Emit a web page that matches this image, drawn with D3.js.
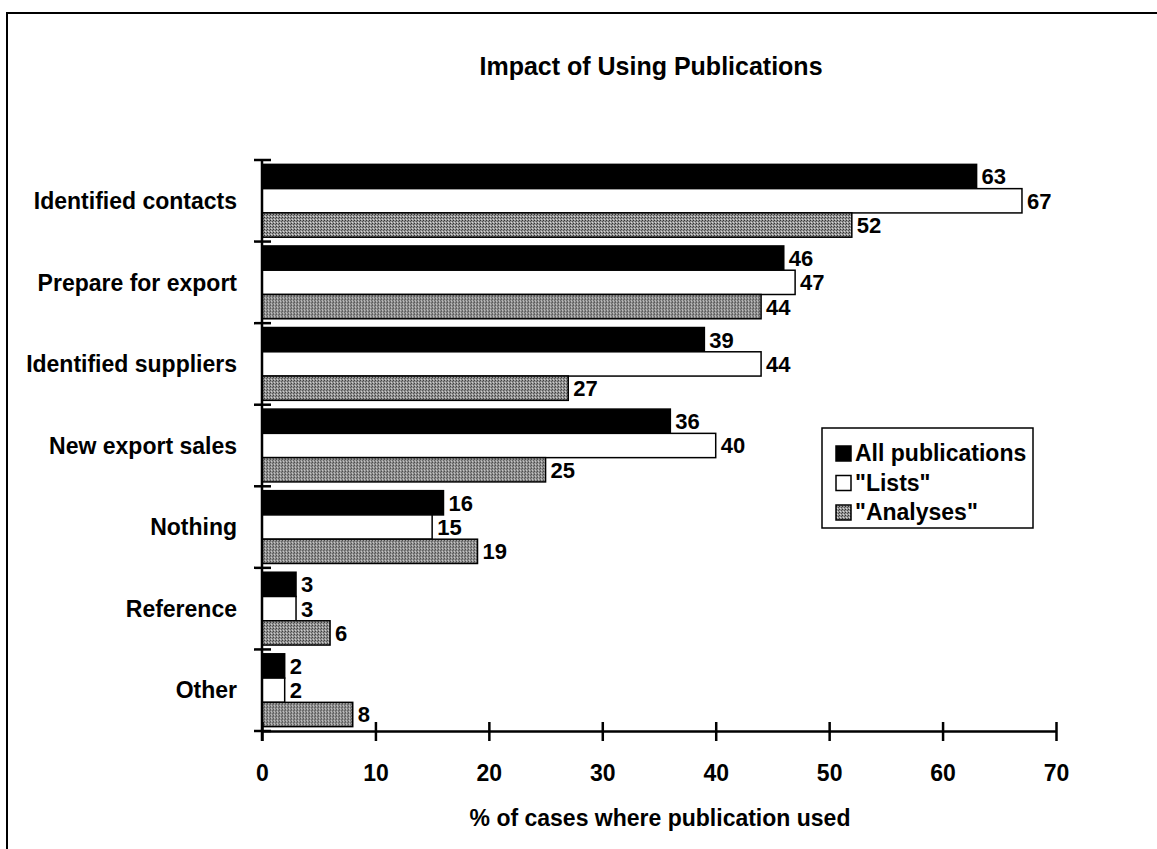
<!DOCTYPE html>
<html>
<head>
<meta charset="utf-8">
<script src="https://cdn.jsdelivr.net/npm/d3@7"></script>
<style>
  body { margin: 0; background: #fff; }
  text { font-family: "Liberation Sans", Arial, sans-serif; fill: #000; font-weight: bold; }
</style>
</head>
<body>
<svg></svg>
<script>
const categories = ["Identified contacts", "Prepare for export", "Identified suppliers",
                    "New export sales", "Nothing", "Reference", "Other"];
const seriesNames = ["All publications", "\"Lists\"", "\"Analyses\""];
const allPubs = [63, 46, 39, 36, 16, 3, 2];
const lists = [67, 47, 44, 40, 15, 3, 2];
const analyses = [52, 44, 27, 25, 19, 6, 8];
const xTicks = [0, 10, 20, 30, 40, 50, 60, 70];

const W = 1157, H = 849;
const svg = d3.select("svg").attr("width", W).attr("height", H);

// gray dotted fill like the scanned original
const defs = svg.append("defs");
const pat = defs.append("pattern")
  .attr("id", "grain").attr("width", 3).attr("height", 3)
  .attr("patternUnits", "userSpaceOnUse");
pat.append("rect").attr("width", 3).attr("height", 3).attr("fill", "#959595");
pat.append("rect").attr("x", 0).attr("y", 0).attr("width", 1).attr("height", 1).attr("fill", "#333");
pat.append("rect").attr("x", 2).attr("y", 1).attr("width", 1).attr("height", 1).attr("fill", "#505050");
pat.append("rect").attr("x", 1).attr("y", 2).attr("width", 1).attr("height", 1).attr("fill", "#d8d8d8");

const fills = ["#000", "#fff", "url(#grain)"];

// outer frame (top and left edges visible)
svg.append("path")
  .attr("d", "M7,849 L7,13 L1157,13")
  .attr("fill", "none").attr("stroke", "#000").attr("stroke-width", 2);

svg.append("text")
  .attr("x", 651).attr("y", 75)
  .attr("text-anchor", "middle")
  .style("font-size", "25px")
  .text("Impact of Using Publications");

const plotLeft = 262, plotRight = 1056, plotTop = 160, plotBottom = 731;

const x = d3.scaleLinear().domain([0, 70]).range([plotLeft, plotRight]);
const y = d3.scaleBand().domain(categories).range([plotTop, plotBottom]);
const inner = d3.scaleBand().domain([0, 1, 2])
  .range([0, y.bandwidth()]).paddingOuter(0.18);

const data = categories.map((c, i) => ({
  cat: c,
  vals: [allPubs[i], lists[i], analyses[i]]
}));

const groups = svg.selectAll(".grp")
  .data(data).enter()
  .append("g").attr("class", "grp")
  .attr("transform", d => "translate(0," + y(d.cat) + ")");

groups.selectAll("rect")
  .data(d => d.vals.map((v, k) => ({ v, k })))
  .enter().append("rect")
  .attr("x", x(0))
  .attr("y", d => inner(d.k))
  .attr("width", d => x(d.v) - x(0))
  .attr("height", inner.bandwidth())
  .attr("fill", d => fills[d.k])
  .attr("stroke", "#000").attr("stroke-width", 1.5);

groups.selectAll(".val")
  .data(d => d.vals.map((v, k) => ({ v, k })))
  .enter().append("text")
  .attr("class", "val")
  .attr("x", d => x(d.v) + 5)
  .attr("y", d => inner(d.k) + inner.bandwidth() / 2)
  .attr("dy", "0.36em")
  .style("font-size", "22px")
  .text(d => d.v);

// category labels
svg.selectAll(".cat")
  .data(categories).enter()
  .append("text").attr("class", "cat")
  .attr("x", 237)
  .attr("y", d => y(d) + y.bandwidth() / 2)
  .attr("dy", "0.36em")
  .attr("text-anchor", "end")
  .style("font-size", "23px")
  .text(d => d);

// y axis with ticks at category boundaries
svg.append("line")
  .attr("x1", plotLeft).attr("x2", plotLeft)
  .attr("y1", plotTop).attr("y2", plotBottom + 10)
  .attr("stroke", "#000").attr("stroke-width", 2.5);
const bounds = categories.map(c => y(c)).concat([plotBottom]);
svg.selectAll(".ytick")
  .data(bounds).enter()
  .append("line").attr("class", "ytick")
  .attr("x1", plotLeft - 8).attr("x2", plotLeft + 9)
  .attr("y1", d => d).attr("y2", d => d)
  .attr("stroke", "#000").attr("stroke-width", 2.5);

// x axis
const xAxis = svg.append("g")
  .attr("transform", "translate(0," + plotBottom + ")")
  .call(d3.axisBottom(x).tickValues(xTicks).tickSize(0).tickPadding(34));
xAxis.select(".domain").attr("stroke-width", 2.5);
xAxis.selectAll(".tick text")
  .style("font-size", "23px")
  .attr("font-family", null);
xAxis.selectAll(".tick").append("line")
  .attr("y1", -9).attr("y2", 10)
  .attr("stroke", "#000").attr("stroke-width", 2.5);

svg.append("text")
  .attr("x", 660).attr("y", 826)
  .attr("text-anchor", "middle")
  .style("font-size", "23px")
  .text("% of cases where publication used");

// legend
const lg = svg.append("g").attr("transform", "translate(822,428)");
lg.append("rect")
  .attr("width", 211).attr("height", 100)
  .attr("fill", "#fff").attr("stroke", "#000").attr("stroke-width", 1.5);
const items = lg.selectAll(".li")
  .data(seriesNames).enter()
  .append("g").attr("class", "li")
  .attr("transform", (d, i) => "translate(14," + (25 + i * 29.5) + ")");
items.append("rect")
  .attr("x", 0).attr("y", -7).attr("width", 15).attr("height", 15)
  .attr("fill", (d, i) => fills[i])
  .attr("stroke", "#000").attr("stroke-width", 1.5);
items.append("text")
  .attr("x", 19).attr("dy", "0.36em")
  .style("font-size", "23px")
  .text(d => d);
</script>
</body>
</html>
